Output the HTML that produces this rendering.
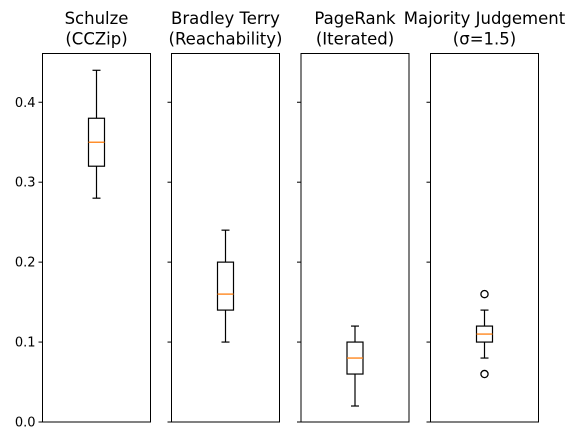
<!DOCTYPE html>
<html><head><meta charset="utf-8"><style>
body{margin:0;background:#fff;}
svg{display:block;font-family:"DejaVu Sans","Liberation Sans",sans-serif;}
</style></head><body>
<svg id="chart" width="575" height="440" viewBox="0 0 575 440"></svg>
<script>
const titles1 = ["Schulze","Bradley Terry","PageRank","Majority Judgement"];
const titles2 = ["(CCZip)","(Reachability)","(Iterated)","(σ=1.5)"];
const whiskerLow = [0.28,0.10,0.02,0.08];
const q1 = [0.32,0.14,0.06,0.10];
const medians = [0.35,0.16,0.08,0.11];
const q3 = [0.38,0.20,0.10,0.12];
const whiskerHigh = [0.44,0.24,0.12,0.14];
const fliers = [[],[],[],[0.16,0.06]];
const yTicks = [0.0,0.1,0.2,0.3,0.4];
const yTickLabels = ["0.0","0.1","0.2","0.3","0.4"];

const NS="http://www.w3.org/2000/svg";
const svgEl=document.getElementById('chart');
const panelLeft=[42.5,171.5,301,430.5], panelW=108, plotTop=53.5, plotBottom=422;
const yMax=0.461;
function yScale(v){return plotBottom-(v/yMax)*(plotBottom-plotTop);}
function mk(tag,attrs,parent){const e=document.createElementNS(NS,tag);for(const k in attrs)e.setAttribute(k,attrs[k]);(parent||svgEl).appendChild(e);return e;}

for(let i=0;i<titles1.length;i++){
  const g=mk('g',{});
  
  
  const x0=panelLeft[i], cx=x0+panelW/2;
  const r=mk('rect',{x:x0,y:plotTop,width:panelW,height:plotBottom-plotTop,fill:'none',stroke:'#000','stroke-width':1},g);
  
  
  const t=mk('text',{x:cx,y:24,'text-anchor':'middle','font-size':16.5,fill:'#000'},g);
  t.textContent=titles1[i];
  
  
  const t2=mk('text',{x:cx,y:44.5,'text-anchor':'middle','font-size':16.5,fill:'#000'},g);
  t2.textContent=titles2[i];
  
  
  yTicks.forEach((v,k)=>{
    const tk=mk('line',{x1:x0-4,x2:x0,y1:yScale(v),y2:yScale(v),stroke:'#000','stroke-width':1},g);
    
    
    if(i===0){
      const tl=mk('text',{x:x0-7,y:yScale(v)+4.5,'text-anchor':'end','font-size':13,fill:'#000'},g);
      tl.textContent=yTickLabels[k];
      
      
    }
  });
  const bw=16, cw=8;
  const wl=mk('line',{x1:cx,x2:cx,y1:yScale(whiskerLow[i]),y2:yScale(q1[i]),stroke:'#000','stroke-width':1.2},g);
  
  
  const wh=mk('line',{x1:cx,x2:cx,y1:yScale(q3[i]),y2:yScale(whiskerHigh[i]),stroke:'#000','stroke-width':1.2},g);
  
  
  [whiskerLow[i],whiskerHigh[i]].forEach(v=>{
    const c=mk('line',{x1:cx-cw/2,x2:cx+cw/2,y1:yScale(v),y2:yScale(v),stroke:'#000','stroke-width':1.2},g);
    
    
  });
  const b=mk('rect',{x:cx-bw/2,y:yScale(q3[i]),width:bw,height:yScale(q1[i])-yScale(q3[i]),fill:'none',stroke:'#000','stroke-width':1.2},g);
  
  
  const m=mk('line',{x1:cx-bw/2,x2:cx+bw/2,y1:yScale(medians[i]),y2:yScale(medians[i]),stroke:'#ff7f0e','stroke-width':1.3},g);
  
  
  fliers[i].forEach(v=>{
    const f=mk('circle',{cx:cx,cy:yScale(v),r:3.6,fill:'none',stroke:'#000','stroke-width':1.3},g);
    
    
  });
}
</script>
</body></html>
